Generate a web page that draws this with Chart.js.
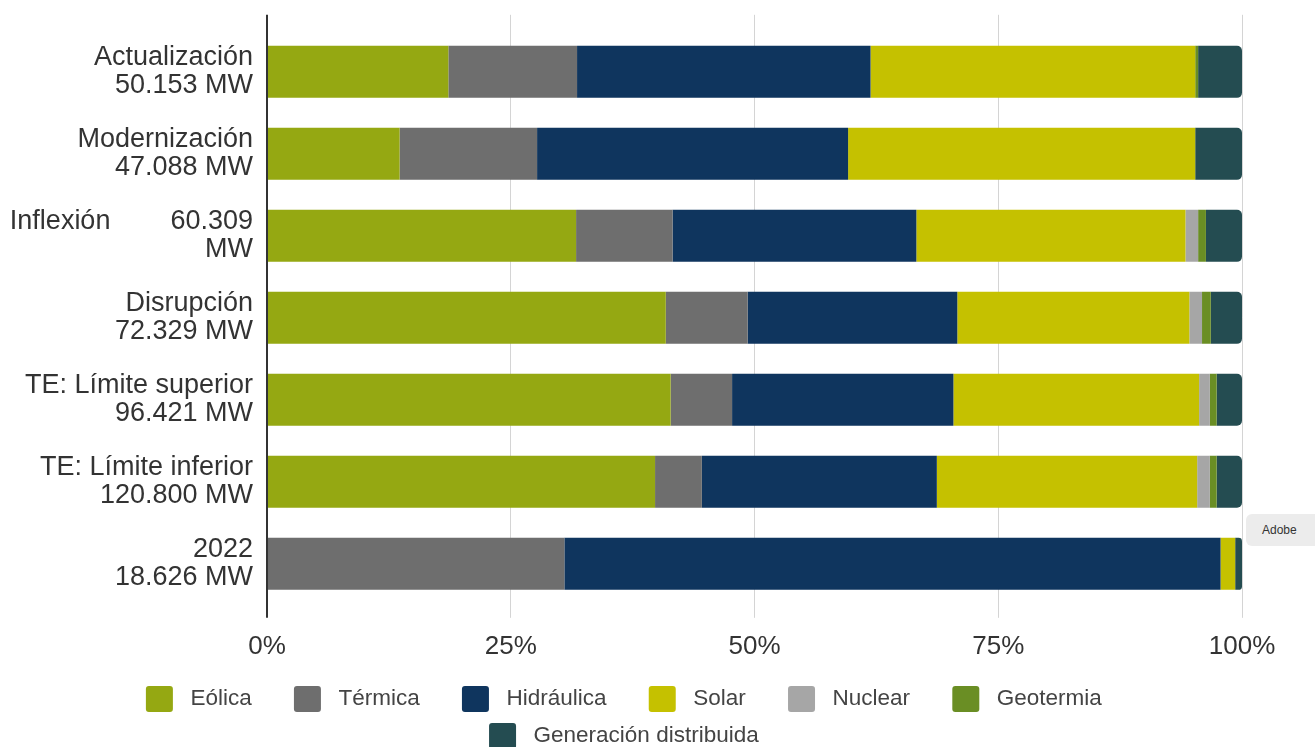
<!DOCTYPE html>
<html lang="es">
<head>
<meta charset="utf-8">
<script src="https://cdn.jsdelivr.net/npm/chart.js@4.4.1/dist/chart.umd.min.js"></script>
<style>
    html, body {
        margin: 0;
        padding: 0;
        background: #ffffff;
    }

    #wrap {
        position: relative;
        width: 1315px;
        height: 747px;
    }

    .adobe-tip {
        position: absolute;
        left: 1246px;
        top: 514px;
        width: 90px;
        height: 32px;
        background: #ececec;
        border-radius: 6px;
        font: 12px "Liberation Sans", Arial, sans-serif;
        color: #333;
        line-height: 32px;
        padding-left: 16px;
        box-sizing: border-box;
        overflow: hidden;
    }
</style>
</head>
<body>

<div id="wrap">
    <canvas id="mixChart" width="1315" height="747"></canvas>
    <div class="adobe-tip">Adobe</div>
</div>

<script>
    // escenarios (eje y) y participación por tecnología, en %
    var categories = [
        ["Actualización", "50.153 MW"],
        ["Modernización", "47.088 MW"],
        ["Inflexión        60.309", "MW"],
        ["Disrupción", "72.329 MW"],
        ["TE: Límite superior", "96.421 MW"],
        ["TE: Límite inferior", "120.800 MW"],
        ["2022", "18.626 MW"]
    ];

    var seriesNames = ["Eólica", "Térmica", "Hidráulica", "Solar", "Nuclear", "Geotermia", "Generación distribuida"];

    var eolica      = [18.6, 13.6, 31.7, 40.9, 41.4, 39.8, 0];
    var termica     = [13.2, 14.1, 9.9, 8.4, 6.3, 4.8, 30.5];
    var hidraulica  = [30.1, 31.9, 25.0, 21.5, 22.7, 24.1, 67.3];
    var solar       = [33.3, 35.6, 27.6, 23.8, 25.2, 26.7, 1.5];
    var nuclear     = [0, 0, 1.3, 1.3, 1.1, 1.3, 0];
    var geotermia   = [0.3, 0, 0.8, 0.9, 0.7, 0.7, 0];
    var distribuida = [4.5, 4.8, 3.7, 3.2, 2.6, 2.6, 0.7];

    var xTicks = [0, 25, 50, 75, 100];

    var colors = ["#95a812", "#6e6e6e", "#0f355e", "#c5c100", "#a6a6a6", "#6a8e24", "#244c51"];

    var allSeries = [eolica, termica, hidraulica, solar, nuclear, geotermia, distribuida];

    // redondear solo el extremo derecho del último tramo de cada barra
    function lastSegment(index) {
        var last = 0;
        for (var i = 0; i < allSeries.length; i++) {
            if (allSeries[i][index] > 0) last = i;
        }
        return last;
    }

    var gridColor = function (ctx) {
        return ctx.tick && ctx.tick.value === 0 ? "#333333" : "#d4d4d4";
    };
    var gridWidth = function (ctx) {
        return ctx.tick && ctx.tick.value === 0 ? 2 : 1;
    };

    var datasets = allSeries.map(function (values, i) {
        return {
            label: seriesNames[i],
            data: values,
            backgroundColor: colors[i],
            borderWidth: 0,
            borderSkipped: false,
            barPercentage: 0.635,
            categoryPercentage: 1,
            borderRadius: function (ctx) {
                if (ctx.datasetIndex === lastSegment(ctx.dataIndex)) {
                    return {topLeft: 0, bottomLeft: 0, topRight: 5, bottomRight: 5};
                }
                return 0;
            }
        };
    });

    // la leyenda va centrada algo a la izquierda; el padding izquierdo la mueve,
    // y aquí se devuelve al eje y todo el ancho para que no recorte sus etiquetas
    var labelRoom = {
        id: "labelRoom",
        afterLayout: function (chart) {
            chart.scales.y.left = 0;
        }
    };

    var config = {
        type: "bar",
        data: {
            labels: categories,
            datasets: datasets
        },
        plugins: [labelRoom],
        options: {
            indexAxis: "y",
            responsive: false,
            animation: false,
            layout: {
                padding: {top: 2, right: 73, bottom: -12, left: 37}
            },
            plugins: {
                legend: {
                    position: "bottom",
                    labels: {
                        boxWidth: 27,
                        boxHeight: 26,
                        padding: 11,
                        useBorderRadius: true,
                        borderRadius: 3,
                        color: "#444444",
                        font: {family: "'Liberation Sans', Arial, sans-serif", size: 22.5},
                        generateLabels: function (chart) {
                            var items = Chart.defaults.plugins.legend.labels.generateLabels(chart);
                            items.forEach(function (item) {
                                item.text = " " + item.text + "     ";
                            });
                            return items;
                        }
                    }
                },
                tooltip: {enabled: false}
            },
            scales: {
                x: {
                    stacked: true,
                    min: 0,
                    max: 100,
                    border: {display: false},
                    grid: {
                        color: gridColor,
                        lineWidth: gridWidth,
                        tickLength: 13
                    },
                    ticks: {
                        stepSize: 25,
                        padding: 13,
                        color: "#333333",
                        font: {family: "'Liberation Sans', Arial, sans-serif", size: 26},
                        callback: function (value) {
                            return xTicks.indexOf(value) >= 0 ? value + "%" : "";
                        }
                    }
                },
                x2: {
                    position: "top",
                    min: 0,
                    max: 100,
                    border: {display: false},
                    grid: {
                        color: gridColor,
                        lineWidth: gridWidth,
                        drawOnChartArea: false,
                        tickLength: 16
                    },
                    ticks: {
                        stepSize: 25,
                        display: false
                    }
                },
                y: {
                    stacked: true,
                    border: {display: true, color: "#333333", width: 2},
                    grid: {display: false, drawTicks: true, tickLength: 11},
                    afterFit: function (scale) {
                        scale.width = 230;
                    },
                    ticks: {
                        padding: 3,
                        color: "#333333",
                        font: {family: "'Liberation Sans', Arial, sans-serif", size: 27, lineHeight: 1.03}
                    }
                }
            }
        }
    };

    var ctx = document.getElementById("mixChart").getContext("2d");
    var mixChart = new Chart(ctx, config);
</script>

</body>
</html>
